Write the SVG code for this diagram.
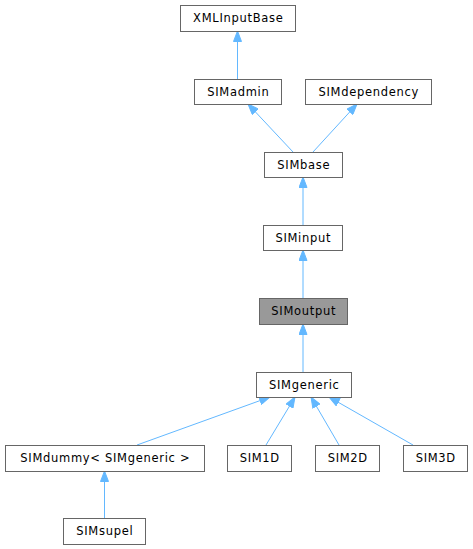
<svg xmlns="http://www.w3.org/2000/svg" width="473" height="549" viewBox="0 0 473 549">
<defs>
<marker id="arr" markerUnits="userSpaceOnUse" markerWidth="11" markerHeight="9" refX="11" refY="4.5" orient="auto">
<path d="M0.5,0.5 L11,4.5 L0.5,8.5 z" fill="#63b8ff" stroke="#63b8ff" stroke-width="1"/>
</marker>
</defs>
<style>
.n rect{fill:#ffffff;stroke:#666666;stroke-width:1}
.n.hl rect{fill:#999999}
.n text{font-family:"DejaVu Sans","Liberation Sans",sans-serif;font-size:11.5px;letter-spacing:0.7px;fill:#000000;text-anchor:middle}
#edges line{stroke:#63b8ff;stroke-width:1;fill:none;marker-end:url(#arr)}
</style>
<rect width="473" height="549" fill="#ffffff"/>
<g id="edges">
<line x1="237.5" y1="79" x2="237.5" y2="31"/>
<line x1="293" y1="152" x2="248" y2="104"/>
<line x1="313" y1="152" x2="357" y2="104"/>
<line x1="303" y1="225" x2="303" y2="177"/>
<line x1="303" y1="298" x2="303" y2="250"/>
<line x1="303" y1="372" x2="303" y2="324"/>
<line x1="137" y1="445" x2="270" y2="397"/>
<line x1="266" y1="445" x2="295" y2="397"/>
<line x1="339" y1="445" x2="311" y2="397"/>
<line x1="413" y1="445" x2="329" y2="397"/>
<line x1="104.5" y1="518" x2="104.5" y2="471"/>
</g>
<g id="XMLInputBase" class="n"><rect x="180.5" y="5.5" width="115" height="26"/><text x="238.3" y="22.3">XMLInputBase</text></g>
<g id="SIMadmin" class="n"><rect x="194.5" y="79.5" width="87" height="25"/><text x="238.3" y="96.3">SIMadmin</text></g>
<g id="SIMdependency" class="n"><rect x="305.5" y="79.5" width="126" height="25"/><text x="368.8" y="96.3">SIMdependency</text></g>
<g id="SIMbase" class="n"><rect x="264.5" y="152.5" width="78" height="25"/><text x="303.8" y="169.3">SIMbase</text></g>
<g id="SIMinput" class="n"><rect x="263.5" y="225.5" width="79" height="25"/><text x="303.3" y="242.3">SIMinput</text></g>
<g id="SIMoutput" class="n hl"><rect x="259.5" y="298.5" width="88" height="26"/><text x="303.8" y="315.3">SIMoutput</text></g>
<g id="SIMgeneric" class="n"><rect x="256.5" y="372.5" width="95" height="25"/><text x="304.3" y="389.3">SIMgeneric</text></g>
<g id="SIMdummy" class="n"><rect x="5.5" y="445.5" width="199" height="26"/><text x="105.3" y="462.3">SIMdummy&lt; SIMgeneric &gt;</text></g>
<g id="SIM1D" class="n"><rect x="227.5" y="445.5" width="64" height="26"/><text x="259.8" y="462.3">SIM1D</text></g>
<g id="SIM2D" class="n"><rect x="315.5" y="445.5" width="64" height="26"/><text x="347.8" y="462.3">SIM2D</text></g>
<g id="SIM3D" class="n"><rect x="403.5" y="445.5" width="64" height="26"/><text x="435.8" y="462.3">SIM3D</text></g>
<g id="SIMsupel" class="n"><rect x="63.5" y="518.5" width="82" height="26"/><text x="104.8" y="535.3">SIMsupel</text></g>
</svg>
